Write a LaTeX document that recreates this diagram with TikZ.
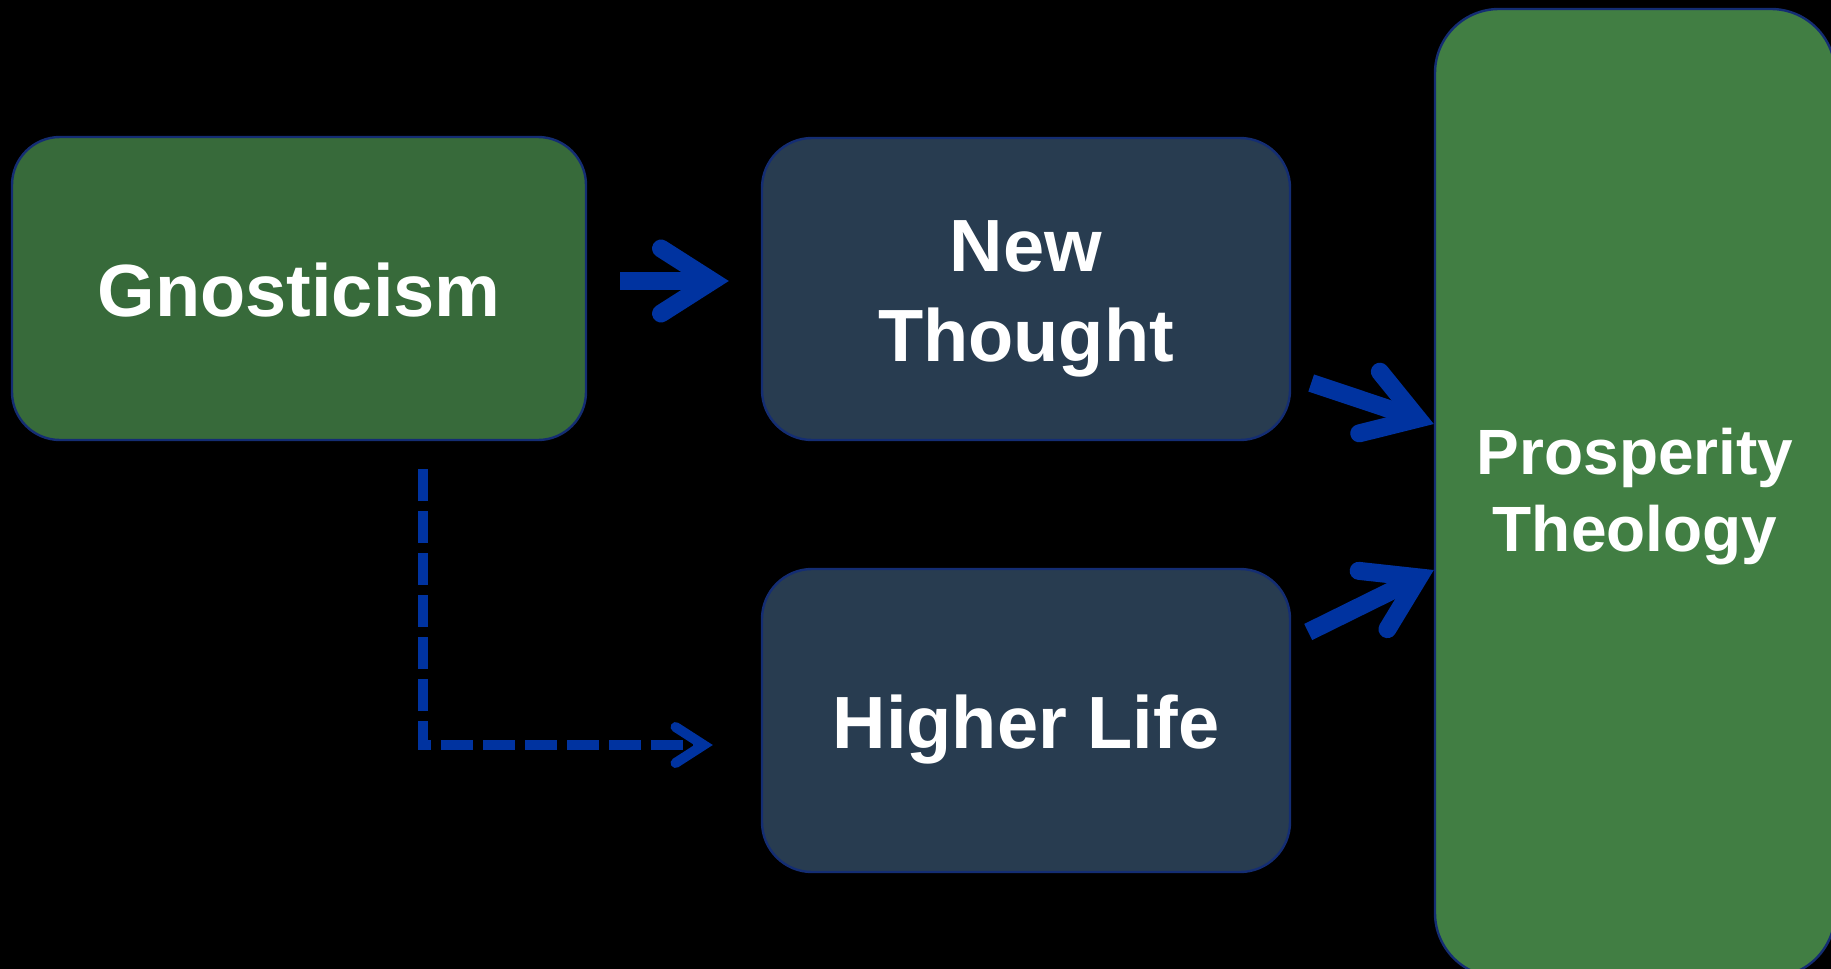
\documentclass[tikz,border=0pt]{standalone}
\usepackage{fontspec}
\setmainfont{Liberation Sans}
\usetikzlibrary{arrows.meta,calc}
\definecolor{gnogreen}{RGB}{55,106,58}
\definecolor{prosgreen}{RGB}{65,126,67}
\definecolor{slatebox}{RGB}{40,60,80}
\definecolor{rimblue}{RGB}{20,45,115}
\definecolor{arrowblue}{RGB}{0,51,160}
\tikzset{
  box/.style={draw=rimblue,line width=1.2pt,text=white,align=center,inner sep=0pt,
    font=\bfseries\fontsize{37}{45}\selectfont},
  oneline/.style={text height=28pt,text depth=0pt},
  flow/.style={arrowblue,line width=9pt,
    -{Straight Barb[length=25.5pt,width=32.5pt,line cap=round,line join=miter]}},
  dashflow/.style={arrowblue,line width=5pt,dash pattern=on 16pt off 5pt,
    -{Straight Barb[length=14pt,width=18pt,line cap=round,line join=miter]}}
}
\begin{document}
\begin{tikzpicture}[x=0.5pt,y=-0.5pt]
	\useasboundingbox (0,0) rectangle (1831,969);
	\fill[black] (0,0) rectangle (1831,969);
	% boxes
	\node[box,oneline,fill=gnogreen,rounded corners=24pt,minimum width=287pt,minimum height=151.5pt] (gn) at (299,288.5) {Gnosticism};
	\node[box,fill=slatebox,rounded corners=25pt,minimum width=264pt,minimum height=151pt] (nt) at (1026,289) {\rule{0pt}{35.8pt}New\\Thought};
	\node[box,oneline,fill=slatebox,rounded corners=25pt,minimum width=264pt,minimum height=151.5pt] (hl) at (1026,720.5) {Higher Life};
	\node[box,fill=prosgreen,rounded corners=32pt,minimum width=200pt,minimum height=484pt,font=\bfseries\fontsize{32}{38.5}\selectfont] (pt) at (1635,493) {\rule{0pt}{27.2pt}Prosperity\\Theology};
	% arrows
	\draw[flow] ($(gn.east)+(33,-7.5)$) -- ($(nt.west)+(-32,-8)$);
	\draw[flow] ($(nt.east)+(20,94)$) -- ($(pt.west)+(0,-69)$);
	\draw[flow] ($(hl.east)+(17,-88.5)$) -- ($(pt.west)+(0,77)$);
	\draw[dashflow] ($(gn.south)+(124,28)$) |- ($(hl.west)+(-48,24.5)$);
\end{tikzpicture}
\end{document}
